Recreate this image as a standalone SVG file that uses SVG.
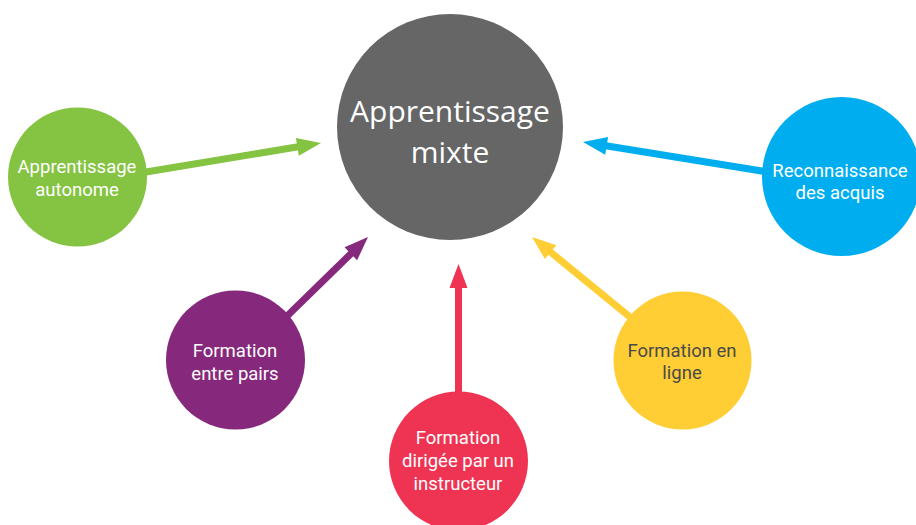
<svg xmlns="http://www.w3.org/2000/svg" width="916" height="525" viewBox="0 0 916 525">
<style>
.lbl{font-family:Roboto,"Open Sans","Liberation Sans",sans-serif;font-size:18.5px;fill:#ffffff;text-anchor:middle}
.big{font-family:"Open Sans","Noto Sans","Liberation Sans",sans-serif;font-size:30px;fill:#ffffff;text-anchor:middle}
.dark{fill:#4a4a4a}
.conn{stroke-width:7;fill:none}
</style>
<defs>
<marker id="hG" markerUnits="userSpaceOnUse" markerWidth="24" markerHeight="18" refX="4" refY="9" orient="auto" overflow="visible"><path d="M0,0 L24,9 L0,18 z" fill="#85c342"/></marker>
<marker id="hB" markerUnits="userSpaceOnUse" markerWidth="24" markerHeight="18" refX="4" refY="9" orient="auto" overflow="visible"><path d="M0,0 L24,9 L0,18 z" fill="#00aeef"/></marker>
<marker id="hP" markerUnits="userSpaceOnUse" markerWidth="24" markerHeight="18" refX="4" refY="9" orient="auto" overflow="visible"><path d="M0,0 L24,9 L0,18 z" fill="#86287c"/></marker>
<marker id="hR" markerUnits="userSpaceOnUse" markerWidth="24" markerHeight="18" refX="4" refY="9" orient="auto" overflow="visible"><path d="M0,0 L24,9 L0,18 z" fill="#ee3452"/></marker>
<marker id="hY" markerUnits="userSpaceOnUse" markerWidth="24" markerHeight="18" refX="4" refY="9" orient="auto" overflow="visible"><path d="M0,0 L24,9 L0,18 z" fill="#ffcd34"/></marker>
</defs>
<rect width="916" height="525" fill="#ffffff"/>
<g id="connectors">
<line class="conn" x1="140" y1="173" x2="301.3" y2="146.3" stroke="#85c342" marker-end="url(#hG)"/>
<line class="conn" x1="768" y1="172" x2="602.7" y2="145.2" stroke="#00aeef" marker-end="url(#hB)"/>
<line class="conn" x1="282" y1="321" x2="353.7" y2="251" stroke="#86287c" marker-end="url(#hP)"/>
<line class="conn" x1="458.5" y1="398" x2="458.5" y2="284" stroke="#ee3452" marker-end="url(#hR)"/>
<line class="conn" x1="636" y1="322" x2="547.5" y2="249.6" stroke="#ffcd34" marker-end="url(#hY)"/>
</g>
<g id="center">
<circle cx="450" cy="127" r="113" fill="#666666"/>
<text class="big" x="450" y="122">Apprentissage</text>
<text class="big" x="450" y="163">mixte</text>
</g>
<g id="autonome">
<circle cx="77.5" cy="177" r="69.5" fill="#85c342"/>
<text class="lbl" x="77" y="173">Apprentissage</text>
<text class="lbl" x="77" y="196">autonome</text>
</g>
<g id="acquis">
<circle cx="841.5" cy="176.5" r="79.5" fill="#00aeef"/>
<text class="lbl" x="840" y="177">Reconnaissance</text>
<text class="lbl" x="840" y="199">des acquis</text>
</g>
<g id="pairs">
<circle cx="235.5" cy="360" r="69.5" fill="#86287c"/>
<text class="lbl" x="235" y="357">Formation</text>
<text class="lbl" x="235" y="380">entre pairs</text>
</g>
<g id="instructeur">
<circle cx="458.5" cy="461" r="69.5" fill="#ee3452"/>
<text class="lbl" x="458" y="444">Formation</text>
<text class="lbl" x="458" y="467">dirigée par un</text>
<text class="lbl" x="458" y="490">instructeur</text>
</g>
<g id="ligne">
<circle cx="682.5" cy="360.5" r="69" fill="#ffcd34"/>
<text class="lbl dark" x="682" y="357">Formation en</text>
<text class="lbl dark" x="682" y="379">ligne</text>
</g>
</svg>
